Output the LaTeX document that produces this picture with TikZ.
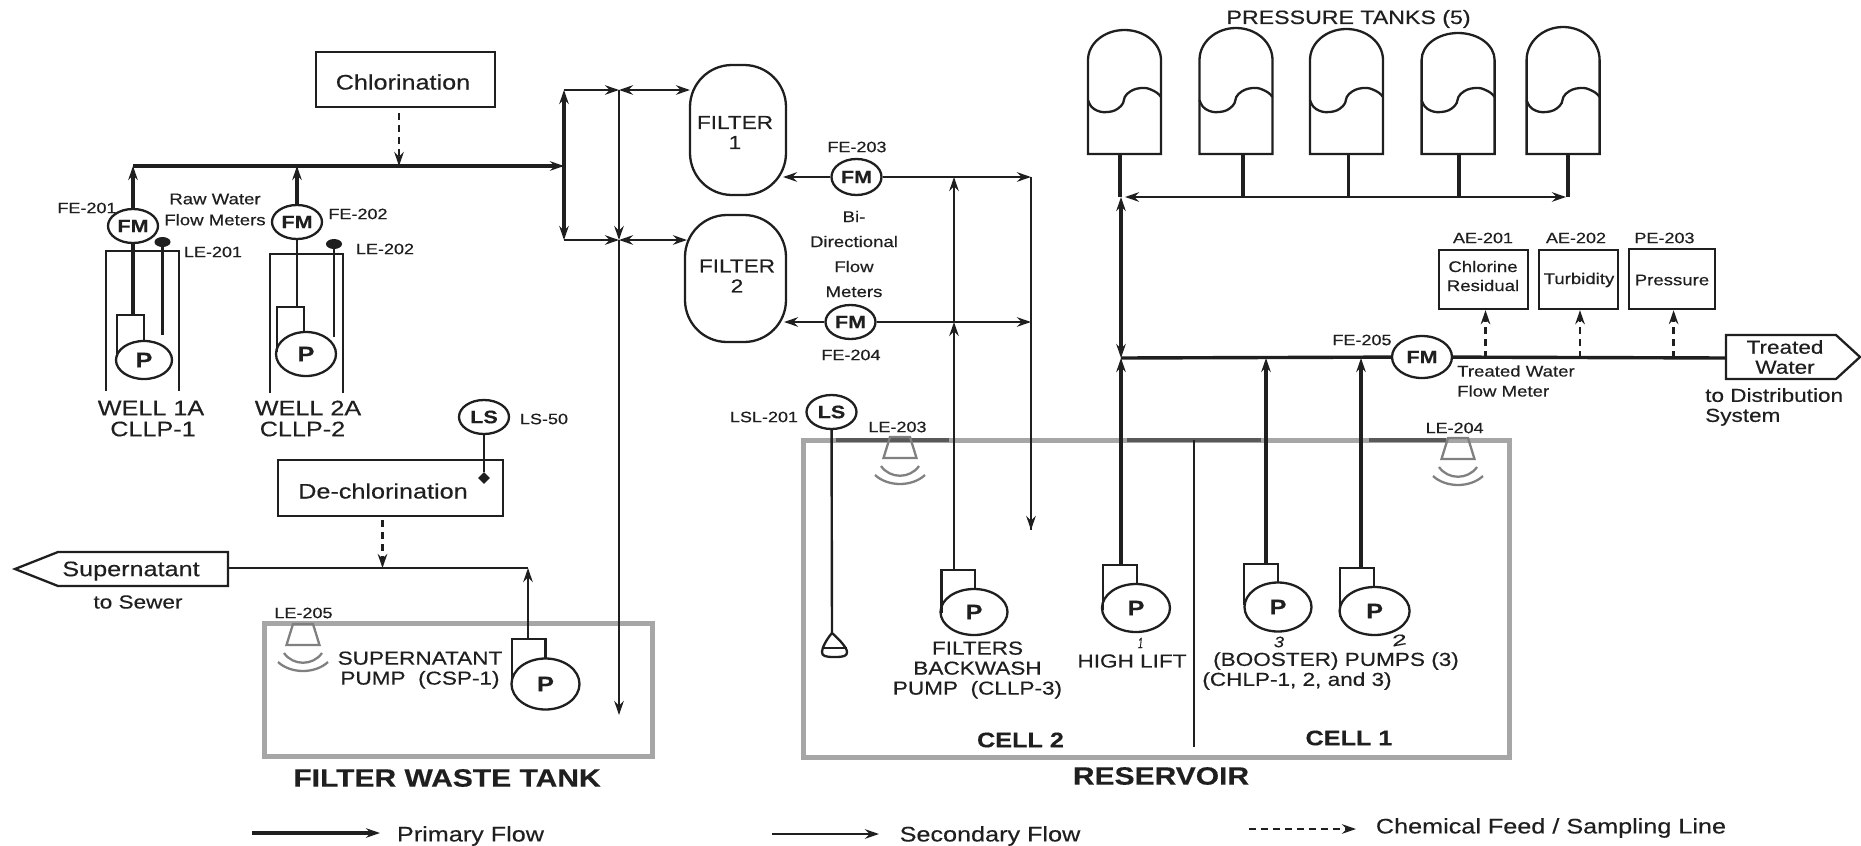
\documentclass[tikz,border=0pt]{standalone}
\usepackage{fontspec}
\setmainfont{Liberation Sans}[FakeStretch=1.2,FakeBold=0.4]
\usetikzlibrary{arrows.meta,shapes.geometric}
\newcommand{\labfont}{\fontsize{15}{18}\selectfont}
\newcommand{\midfont}{\fontsize{18.8}{20}\selectfont}
\newcommand{\bigfont}{\fontsize{21}{22}\selectfont}
\newcommand{\capfont}{\bfseries\fontsize{25}{28}\selectfont}
\definecolor{inkdark}{gray}{0.12}
\definecolor{wallgray}{gray}{0.65}

\begin{document}
\begin{tikzpicture}[x=1pt,y=-1pt,>={Stealth[length=14pt,width=9.5pt]}]
\tikzstyle{every node}=[font=\labfont,inner sep=0pt,text=inkdark,align=center]
\tikzstyle{primary}=[draw=inkdark,line width=3.4pt]
\tikzstyle{heavy}=[draw=inkdark,line width=4.2pt]
\tikzstyle{booster}=[draw=inkdark,line width=3.3pt]
\tikzstyle{secondary}=[draw=inkdark,line width=2.4pt]
\tikzstyle{feedline}=[draw=inkdark,line width=2.4pt,dash pattern=on 7pt off 5pt]
\tikzstyle{outline}=[draw=inkdark,line width=2.3pt]
\tikzstyle{procbox}=[rectangle,outline]
\tikzstyle{fmeter}=[ellipse,outline,font=\bfseries\fontsize{18}{20}\selectfont,minimum width=50pt,minimum height=34pt]
\tikzstyle{filterbox}=[rectangle,outline,rounded corners=42pt]
\tikzstyle{pumpball}=[ellipse,outline,font=\bfseries\fontsize{21}{22}\selectfont]
\tikzstyle{wall}=[rectangle,draw=wallgray,line width=5pt]
\tikzstyle{walldark}=[draw=black!65,line width=3.5pt]
\tikzstyle{sensor}=[draw=black!50,line width=2.3pt]
\useasboundingbox (0,0) rectangle (1861,846);

\node[wall,minimum width=388pt,minimum height=133pt] (wastetank) at (458.5,689.5) {};
\node[wall,minimum width=706pt,minimum height=317pt] (reservoir) at (1156,598.5) {};
\draw[walldark] (836,440) -- (949,440);
\draw[walldark] (1127,440) -- (1261,440);
\draw[walldark] (1369,440) -- (1446,440);

\node[procbox,minimum width=179pt,minimum height=55pt] (chlor) at (405.5,79.5) {};
\node[font=\bigfont] (chlortext) at (403,82) {Chlorination};
\node[procbox,minimum width=225pt,minimum height=56pt] (dechlor) at (390.5,488) {};
\node[font=\bigfont] (dechlortext) at (383,491) {De-chlorination};

\coordinate (maina) at (133,166);
\coordinate (mainb) at (297,166);
\coordinate (mainc) at (399,166);
\coordinate (split) at (564,166);
\draw[primary,->] (maina) -- (split);
\draw[feedline,->] ([yshift=-5pt]chlor.south -| mainc) -- (mainc);

\node[fmeter] (fmone) at (133,226) {FM};
\node[fmeter] (fmtwo) at (297,222) {FM};
\node (fetwo01) at (87,208) {FE-201};
\node (fetwo02) at (358,214) {FE-202};
\node[font=\fontsize{15.5}{21}\selectfont] (rawlabel) at (215,209.5) {Raw Water\\Flow Meters};
\draw[primary,->] (fmone) -- (maina);
\draw[primary,->] (fmtwo) -- (mainb);

\foreach \n/\xl/\xr/\yt/\yr/\yy/\xc/\yc/\w/\h/\xp in {
  wellone/117/144/315/342/357/144/360/56/38/133,
  welltwo/277/304/307/332/352/306/354/60/44/297,
  waste/512/545.5/639/658/683/545.5/684/68/51/528,
  wash/941.5/975/570/589/613/974/612/67/46/954,
  high/1103/1137/565/584/610/1136/608/68/48/1121,
  boostc/1244/1278/564/583/605/1278/607/67/49/1266,
  boostb/1340/1374/568/587/617/1374.6/611/70/48/1361}{
  \draw[outline] (\xl,\yy) -- (\xl,\yt) -- (\xr,\yt) -- (\xr,\yr);
  \node[pumpball,minimum width=\w pt,minimum height=\h pt] (pump\n) at (\xc,\yc) {P};
  \coordinate (top\n) at (\xp,\yt);
}

\draw[outline] (106,391) -- (106,251) -- (179,251) -- (179,391);
\draw[outline] (270,393) -- (270,254) -- (343,254) -- (343,393);
\draw[primary] (fmone) -- (topwellone);
\draw[secondary] (fmtwo) -- (topwelltwo);
\node[ellipse,fill=inkdark,minimum width=16pt,minimum height=10pt] (ledotone) at (162.5,242) {};
\node[ellipse,fill=inkdark,minimum width=16pt,minimum height=10pt] (ledottwo) at (334,244) {};
\coordinate (leendone) at (162.5,335);
\coordinate (leendtwo) at (334,337);
\draw[secondary] (ledotone) -- (leendone);
\draw[secondary] (ledottwo) -- (leendtwo);
\node (letwo01) at (213,252) {LE-201};
\node (letwo02) at (385,249) {LE-202};
\node[font=\bigfont] (wella) at (151,408) {WELL 1A};
\node[font=\bigfont] (cllpa) at (153,429) {CLLP-1};
\node[font=\bigfont] (wellb) at (308,408) {WELL 2A};
\node[font=\bigfont] (cllpb) at (302.5,429) {CLLP-2};

\node[fmeter] (lsfifty) at (484,417) {LS};
\node (lslabel) at (544,419) {LS-50};
\node[diamond,fill=inkdark,minimum width=12pt,minimum height=12pt] (lsdot) at (484,478) {};
\draw[secondary] (lsfifty) -- (lsdot);

\draw[outline] (15,569) -- (58,552) -- (228,552) -- (228,586) -- (58,586) -- cycle;
\node[font=\bigfont] (supernatant) at (131,571) {Supernatant};
\node[font=\midfont] (sewer) at (138,602) {to Sewer};
\coordinate (supout) at (228,568);
\coordinate (supturn) at (528,568);
\coordinate (supfeed) at (382.5,568);
\draw[secondary] (supturn) -- (supout);
\draw[secondary,->] (topwaste) -- (supturn);
\draw[feedline,->] ([yshift=-3pt]dechlor.south -| supfeed) -- (supfeed);
\node (lefive) at (303.5,613) {LE-205};
\node[font=\midfont] (suplabel) at (420,670) {SUPERNATANT\\PUMP\ \ (CSP-1)};
\node[font=\capfont] (wastename) at (447,778) {FILTER WASTE TANK};

\foreach \xc/\yt in {303/624,900/437,1458/438}{
  \draw[sensor] (\xc-10,\yt) -- (\xc+10,\yt) -- (\xc+16.5,\yt+21) -- (\xc-16.5,\yt+21) -- cycle;
  \draw[sensor] (\xc-19,\yt+29) .. controls (\xc-10,\yt+42) and (\xc+10,\yt+42) .. (\xc+19,\yt+29);
  \draw[sensor] (\xc-25,\yt+38) .. controls (\xc-12,\yt+50) and (\xc+12,\yt+50) .. (\xc+25,\yt+38);
}

\node[filterbox,minimum width=96pt,minimum height=130pt] (filterone) at (738,130) {};
\node[filterbox,minimum width=101pt,minimum height=127pt] (filtertwo) at (735.5,278.5) {};
\node[font=\midfont] (filteronetext) at (735,132.5) {FILTER\\1};
\node[font=\midfont] (filtertwotext) at (737,276) {FILTER\\2};
\coordinate (upcorner) at (564,90);
\coordinate (lowcorner) at (564,240);
\coordinate (upmid) at (619,90);
\coordinate (lowmid) at (619,240);
\coordinate (upin) at (690,90);
\coordinate (lowin) at (687,240);
\coordinate (drain) at (619,715);
\draw[primary,->] (split) -- (upcorner);
\draw[primary,->] (split) -- (lowcorner);
\draw[secondary,->] (upcorner) -- (upmid);
\draw[secondary,->] (lowcorner) -- (lowmid);
\draw[secondary,<->] (upmid) -- (upin);
\draw[secondary,<->] (lowmid) -- (lowin);
\draw[secondary,->] (upmid) -- (lowmid);
\draw[secondary,->] (lowmid) -- (drain);

\node[fmeter,minimum height=36pt] (fmthree) at (856.5,177) {FM};
\node[fmeter] (fmfour) at (850.5,322) {FM};
\node (fethree) at (857,147) {FE-203};
\node (fefour) at (851,355) {FE-204};
\node[font=\fontsize{15.5}{18}\selectfont] (bilabel) at (854,254) {Bi-\\[7pt]Directional\\[7pt]Flow\\[7pt]Meters};
\coordinate (outone) at (783,177);
\coordinate (outtwo) at (784,322);
\coordinate (washa) at (954,177);
\coordinate (washb) at (954,322);
\coordinate (returna) at (1031,177);
\coordinate (returnb) at (1031,322);
\coordinate (returnend) at (1031,530);
\draw[secondary,->] (fmthree) -- (outone);
\draw[secondary,->] (fmfour) -- (outtwo);
\draw[secondary,->] (fmthree) -- (returna);
\draw[secondary,->] (fmfour) -- (returnb);
\draw[secondary] (returna) -- (returnend);
\draw[secondary,->] (returnb) -- (returnend);
\draw[secondary,->] (topwash) -- (washb);
\draw[secondary,->] (washb) -- (washa);

\node[fmeter] (lslow) at (831.5,412) {LS};
\node (lsllabel) at (764,417) {LSL-201};
\node (lethree) at (897.5,427) {LE-203};
\coordinate (floatpt) at (832,633);
\draw[secondary] (lslow) -- (floatpt);
\draw[outline] (832,633) .. controls (826,640) and (822,648) .. (822,652) .. controls (822,656) and (825,657) .. (834.5,657) .. controls (844,657) and (847,656) .. (847,652) .. controls (847,648) and (840,640) .. (832,633);
\draw[outline] (822,648) -- (847,648);
\node[font=\midfont] (washlabel) at (977.5,670) {FILTERS\\BACKWASH\\PUMP\ \ (CLLP-3)};
\node[font=\midfont] (highlabel) at (1132,661) {HIGH LIFT};
\node[font=\midfont] (boostlabel) at (1336,661) {(BOOSTER) PUMPS (3)};
\node[font=\midfont] (chlplabel) at (1297,681) {(CHLP-1, 2, and 3)};
\node[font=\itshape\fontsize{15}{15}\selectfont,xscale=0.5] (markone) at (1140.5,643) {1};
\node[font=\itshape\fontsize{15}{15}\selectfont] (markthree) at (1279,642) {3};
\node[font=\itshape\fontsize{15}{15}\selectfont,xscale=1.5,rotate=15] (marktwo) at (1399,640) {2};
\coordinate (dividertop) at (1194,440);
\coordinate (dividerend) at (1194,747);
\draw[secondary] (dividertop) -- (dividerend);
\node[font=\bfseries\bigfont] (celltwo) at (1020.5,740) {CELL 2};
\node[font=\bfseries\bigfont] (cellone) at (1349,738) {CELL 1};
\node[font=\capfont] (resname) at (1161,776) {RESERVOIR};

\node[font=\fontsize{19.3}{22}\selectfont] (tankname) at (1348.6,19) {PRESSURE TANKS (5)};
\foreach \n/\xa/\xp/\ya in {1/1088/1120/30,2/1199.5/1243/28,3/1310/1348.6/29,4/1421.6/1459/33,5/1526.6/1568/27}{
  \draw[outline] (\xa,154) -- (\xa,60) arc[start angle=180,end angle=0,x radius=36.5pt,y radius={(60-\ya)*1pt}] -- (\xa+73,154) -- cycle;
  \draw[outline] plot[smooth,tension=0.8] coordinates {(\xa,100) (\xa+6,109) (\xa+20,112) (\xa+33,106) (\xa+39,94) (\xa+53,88) (\xa+66,91) (\xa+73,97)};
  \coordinate (tankout\n) at (\xp,154);
  \coordinate (tankjoin\n) at (\xp,197);
  \draw[primary] (tankout\n) -- (tankjoin\n);
}
\coordinate (headleft) at (1125,197);
\coordinate (headright) at (1566,197);
\coordinate (highjoin) at (1121,358);
\coordinate (highup) at (1121,197);
\draw[secondary,<->] (headleft) -- (headright);
\draw[heavy,<->] (highup) -- (highjoin);
\draw[heavy,->] (tophigh) -- (highjoin);

\node[fmeter,minimum width=60pt,minimum height=42pt] (fmfive) at (1422,357) {FM};
\node (fefive) at (1362,340) {FE-205};
\node[font=\fontsize{15.5}{20}\selectfont,align=left,anchor=west] (treatflow) at (1457,381) {Treated Water\\Flow Meter};
\draw[outline] (1726,335) -- (1836,335) -- (1860,357) -- (1836,379) -- (1726,379) -- cycle;
\node[font=\midfont] (treated) at (1785,357) {Treated\\Water};
\node[font=\midfont,align=left,anchor=west] (distrib) at (1705,407) {to Distribution\\System};
\coordinate (treatin) at (1726,358);
\coordinate (boostc) at (1266,358);
\coordinate (boostb) at (1361,358);
\draw[primary] (highjoin) -- (fmfive);
\draw[primary] (fmfive) -- (treatin);
\draw[booster,->] (topboostc) -- (boostc);
\draw[booster,->] (topboostb) -- (boostb);

\node[procbox,minimum width=89pt,minimum height=59pt] (chlorine) at (1483.5,279.5) {};
\node[procbox,minimum width=79pt,minimum height=59pt] (turbid) at (1578.5,279.5) {};
\node[procbox,minimum width=86pt,minimum height=60pt] (press) at (1672,279) {};
\node[font=\fontsize{15.5}{19}\selectfont] (chlorinetext) at (1483,276) {Chlorine\\Residual};
\node[font=\fontsize{15.5}{19}\selectfont] (turbidtext) at (1579,280) {Turbidity};
\node[font=\fontsize{15.5}{19}\selectfont] (presstext) at (1672,280) {Pressure};
\node (aeone) at (1483,238) {AE-201};
\node (aetwo) at (1576,238) {AE-202};
\node (peone) at (1664.5,238) {PE-203};
\coordinate (samplea) at (1485.5,358);
\coordinate (sampleb) at (1580,358);
\coordinate (samplec) at (1673.6,358);
\draw[feedline,->] (samplea) -- (samplea |- chlorine.south);
\draw[feedline,->] (sampleb) -- (sampleb |- turbid.south);
\draw[feedline,->] (samplec) -- (samplec |- press.south);
\node (lefour) at (1454.6,428) {LE-204};

\coordinate (keyaa) at (252,833);
\coordinate (keyab) at (380,833);
\coordinate (keyba) at (772,834);
\coordinate (keybb) at (879,834);
\coordinate (keyca) at (1249,829);
\coordinate (keycb) at (1356,829);
\draw[booster,->] (keyaa) -- (keyab);
\draw[secondary,->] (keyba) -- (keybb);
\draw[feedline,->] (keyca) -- (keycb);
\node[font=\bigfont] (keya) at (470.5,836) {Primary Flow};
\node[font=\bigfont] (keyb) at (990,836) {Secondary Flow};
\node[font=\bigfont] (keyc) at (1551,828) {Chemical Feed / Sampling Line};
\end{tikzpicture}
\end{document}
